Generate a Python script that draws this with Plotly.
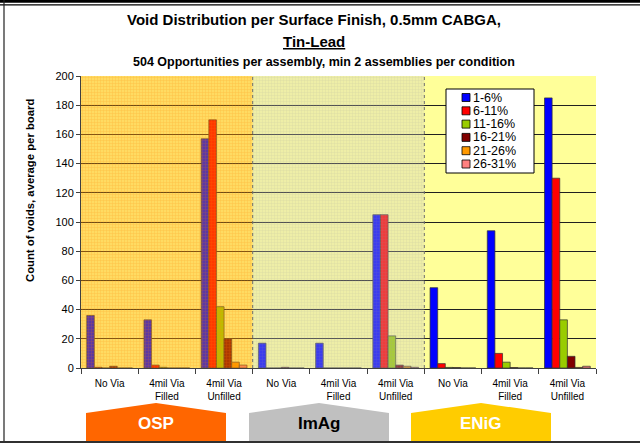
import plotly.graph_objects as go

# ---------------- data ----------------
finishes = ["OSP", "ImAg", "ENiG"]
conditions = ["No Via", "4mil Via<br>Filled", "4mil Via<br>Unfilled"]
series_names = ["1-6%", "6-11%", "11-16%", "16-21%", "21-26%", "26-31%"]
v_1_6 = [36, 33, 157, 17, 17, 105, 55, 94, 185]
v_6_11 = [0.5, 2, 170, 0, 0, 105, 3, 10, 130]
v_11_16 = [0, 0.5, 42, 0, 0, 22, 0.4, 4, 33]
v_16_21 = [1.2, 0, 20, 0.5, 0, 2, 0.3, 0.3, 8]
v_21_26 = [0, 0, 4, 0, 0, 1.2, 0, 0, 0.4]
v_26_31 = [0, 0, 2, 0, 0, 0.5, 0, 0, 1.2]
y_ticks = [0, 20, 40, 60, 80, 100, 120, 140, 160, 180, 200]

series_values = [v_1_6, v_6_11, v_11_16, v_16_21, v_21_26, v_26_31]
series_colors = ["#0000FF", "#FF0000", "#99CC00", "#800000", "#FF9900", "#FF8080"]

n_cond = len(conditions)
tick_text = conditions * len(finishes)
xs = list(range(len(tick_text)))

FONT = "Liberation Sans, Arial, sans-serif"

# plot area in pixels (for paper conversions of decorations)
W, H = 640, 445
L, R, T, B = 81, 44, 76, 77
PW, PH = W - L - R, H - T - B


def px(x):
    return (x - L) / PW


def py(y):
    return (H - B - y) / PH


def note(text, x, y, size, color="black", angle=0, xanchor="center"):
    fig.add_annotation(text=text, xref="paper", yref="paper", x=px(x), y=py(y),
                       xanchor=xanchor, yanchor="middle", showarrow=False,
                       borderpad=0, textangle=angle,
                       font=dict(size=size, family=FONT, color=color))


def hline(y, x0, x1, color, width):
    fig.add_shape(type="line", xref="paper", yref="paper",
                  x0=px(x0), x1=px(x1), y0=py(y), y1=py(y),
                  line=dict(color=color, width=width), layer="above")


fig = go.Figure()

for name, vals, col in zip(series_names, series_values, series_colors):
    fig.add_trace(go.Bar(
        x=xs, y=vals, name=name, showlegend=False,
        marker=dict(color=col, line=dict(color="#303030", width=0.7)),
    ))

# translucent patterned overlays for the OSP and ImAg regions (drawn above bars)
overlay_styles = [("rgba(255,155,0,0.36)", "rgba(255,125,0,0.55)"),
                  ("rgba(200,200,200,0.30)", "rgba(150,150,150,0.40)")]
for f, (base_col, line_col) in enumerate(overlay_styles):
    fig.add_trace(go.Bar(
        x=[f * n_cond + (n_cond - 1) / 2], y=[y_ticks[-1]], width=[n_cond],
        xaxis="x2", showlegend=False, hoverinfo="skip",
        marker=dict(
            color=base_col, line=dict(width=0),
            pattern=dict(shape="+", size=3, solidity=0.3,
                         fgcolor=line_col, fillmode="overlay"),
        ),
    ))

fig.update_layout(
    width=W, height=H,
    margin=dict(l=L, r=R, t=T, b=B, autoexpand=False),
    paper_bgcolor="white",
    plot_bgcolor="#FFFF99",
    barmode="group",
    bargap=0.2,
    bargroupgap=0,
    font=dict(family=FONT, color="black"),
    showlegend=False,
    xaxis=dict(
        range=[-0.5, len(xs) - 0.5],
        tickmode="array", tickvals=xs, ticktext=tick_text,
        ticks="", tickfont=dict(size=10, family=FONT),
        ticklabelstandoff=6,
        showgrid=False, zeroline=False,
        showline=True, linecolor="#404040", linewidth=1,
        minor=dict(tick0=-0.5, dtick=1, ticks="outside", ticklen=5,
                   tickcolor="#404040", showgrid=False),
        automargin=False,
    ),
    xaxis2=dict(
        range=[-0.5, len(xs) - 0.5], overlaying="x", visible=False,
        showgrid=False, zeroline=False,
    ),
    yaxis=dict(
        range=[y_ticks[0], y_ticks[-1]], tickvals=y_ticks,
        ticks="outside", ticklen=4, tickcolor="#404040",
        tickfont=dict(size=11, family=FONT),
        showgrid=True, gridcolor="#202020", gridwidth=1,
        zeroline=False,
        showline=True, linecolor="#404040", linewidth=1,
        automargin=False,
    ),
)

# region separators
for b in [n_cond - 0.5, 2 * n_cond - 0.5]:
    fig.add_shape(type="line", xref="x", yref="paper", x0=b, x1=b, y0=0, y1=1,
                  line=dict(color="#707070", width=1, dash="dot"), layer="above")

# hand-drawn legend box (Excel-style compact rows)
lg_x0, lg_x1, lg_y0, lg_y1 = 446, 534, 89, 173
fig.add_shape(type="rect", xref="paper", yref="paper",
              x0=px(lg_x0), x1=px(lg_x1), y0=py(lg_y1), y1=py(lg_y0),
              fillcolor="white", line=dict(color="black", width=1), layer="above")
row_h = 13.3
for i, (name, col) in enumerate(zip(series_names, series_colors)):
    cy = 97.5 + i * row_h
    fig.add_shape(type="rect", xref="paper", yref="paper",
                  x0=px(462), x1=px(470), y0=py(cy + 4), y1=py(cy - 4),
                  fillcolor=col, line=dict(color="black", width=0.8), layer="above")
    note(name, 472, cy, 12.5, xanchor="left")

# titles
note("<b>Void Distribution per Surface Finish, 0.5mm CABGA,</b>", 314, 19, 15)
note("<b><u>Tin-Lead</u></b>", 314, 42, 15)
note("<b>504 Opportunities per assembly, min 2 assemblies per condition</b>", 324, 62, 12.5)
note("<b>Count of voids, average per board</b>", 30, 191, 11.3, angle=-90)

# finish labels as arrow-topped plates
plates = [("OSP", 86, "#FF6600", "white"),
          ("ImAg", 249, "#C0C0C0", "black"),
          ("ENiG", 411, "#FFCC00", "white")]
for name, x0, fill, tcol in plates:
    x1 = x0 + 140
    xm = (x0 + x1) / 2
    path = (f"M {px(x0)},{py(441)} L {px(x0)},{py(413)} L {px(xm)},{py(403)} "
            f"L {px(x1)},{py(413)} L {px(x1)},{py(441)} Z")
    fig.add_shape(type="path", xref="paper", yref="paper", path=path,
                  fillcolor=fill, line=dict(width=0), layer="above")
    note(f"<b>{name}</b>", xm, 424, 17, color=tcol)

# outer frame lines
hline(1.2, 0, 640, "black", 3)
hline(4.8, 0, 640, "black", 1.2)
fig.add_shape(type="line", xref="paper", yref="paper",
              x0=px(4), x1=px(4), y0=py(0), y1=py(442),
              line=dict(color="#202020", width=1.2), layer="above")
hline(442, 0, 640, "#303030", 2)

fig.write_html("out.html", config={"displayModeBar": False},
               post_script="document.body.style.margin='0';")
